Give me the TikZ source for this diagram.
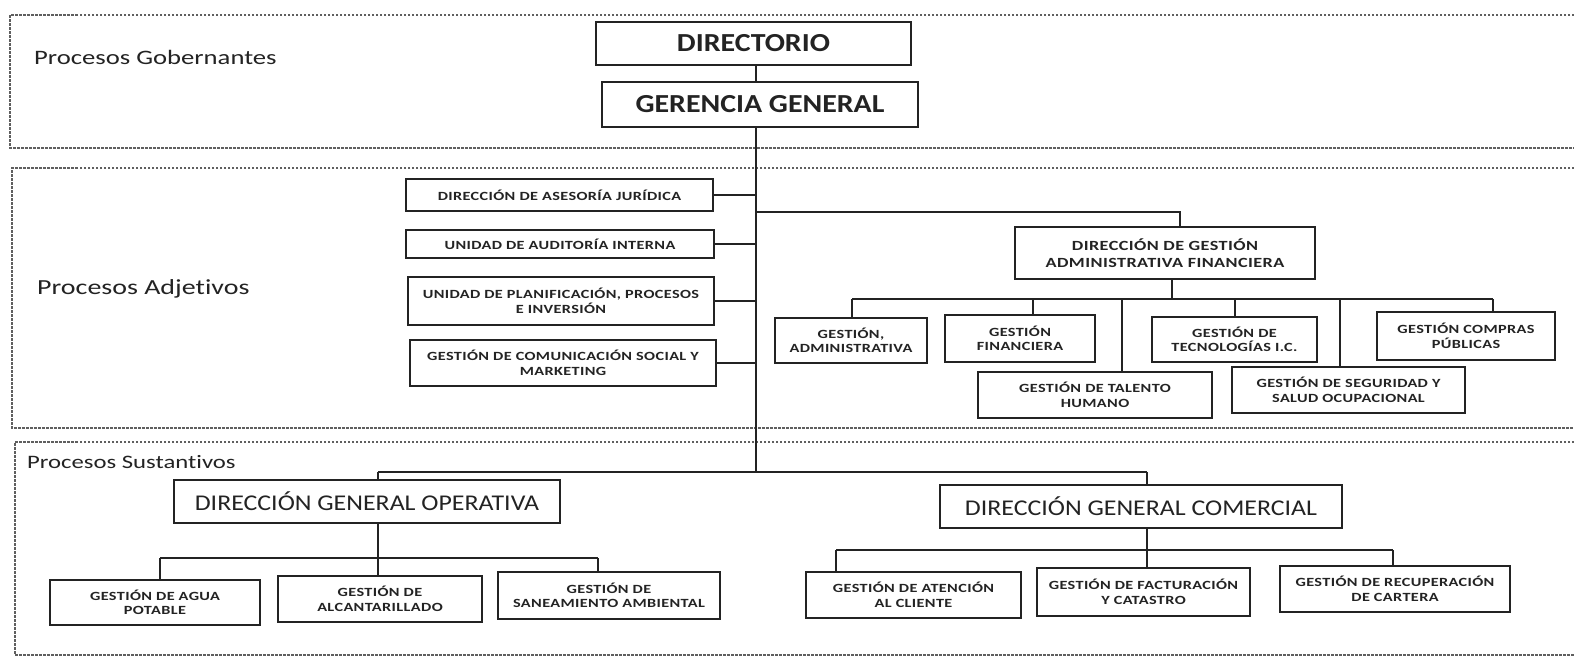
\documentclass[tikz,border=0pt]{standalone}
\usepackage{fontspec}
\setmainfont{Carlito}[Ligatures=NoCommon]
\newfontfamily\hfont{Carlito}[FakeStretch=1.15,Ligatures=NoCommon]
\newfontfamily\lfont{Carlito}[FakeStretch=1.3,Ligatures=NoCommon]
\newfontfamily\sfont{Carlito}[FakeStretch=1.3,LetterSpace=3,Ligatures=NoCommon]
\definecolor{ink}{RGB}{35,35,35}
\definecolor{panelgray}{RGB}{95,95,95}
\begin{document}
\begin{tikzpicture}[x=1pt,y=-1pt,
  box/.style={draw=ink,line width=1.8pt,inner sep=0pt,align=center,text=ink},
  big/.style={box,line width=2.2pt,font=\hfont\bfseries\fontsize{26}{28}\selectfont},
  mid/.style={box,line width=2pt,font=\hfont\fontsize{22.5}{24}\selectfont},
  sm/.style={box,font=\sfont\bfseries\fontsize{12.5}{14.5}\selectfont},
  smb/.style={box,font=\sfont\bfseries\fontsize{14}{16.5}\selectfont},
  conn/.style={draw=ink,line width=1.6pt},
  panel/.style={draw=panelgray,line width=1.1pt,dash pattern=on 2.5pt off 1.5pt},
  lbl/.style={anchor=west,inner sep=0pt,text=ink,font=\lfont\fontsize{20.5}{22}\selectfont}]
\fill[white] (0,0) rectangle (1574,664);
\useasboundingbox (0,0) rectangle (1574,664);

% panels
\draw[panel] (1574,15) -- (10,15) -- (10,148) -- (1574,148);
\draw[panel] (1574,168) -- (12,168) -- (12,428) -- (1574,428);
\draw[panel] (1574,442) -- (15,442) -- (15,655) -- (1574,655);

% panel labels
\node[lbl] (lg) at (34,57) {Procesos Gobernantes};
\node[lbl,font=\lfont\fontsize{21.5}{23}\selectfont] (la) at (37,289) {Procesos Adjetivos};
\node[lbl,font=\lfont\fontsize{19}{21}\selectfont] (ls) at (27,462) {Procesos Sustantivos};

% governing
\node[big,minimum width=315pt,minimum height=43pt] (dir) at (753.5,43.5) {DIRECTORIO};
\node[big,minimum width=316pt,minimum height=45pt] (ger) at (760,104.5) {GERENCIA GENERAL};

% adjective left
\node[sm,minimum width=307pt,minimum height=32pt] (a1) at (559.5,195) {DIRECCIÓN DE ASESORÍA JURÍDICA};
\node[sm,minimum width=308pt,minimum height=28pt] (a2) at (560,244) {UNIDAD DE AUDITORÍA INTERNA};
\node[sm,minimum width=306pt,minimum height=48pt] (a3) at (561,301) {UNIDAD DE PLANIFICACIÓN, PROCESOS\\E INVERSIÓN};
\node[sm,minimum width=306pt,minimum height=46pt] (a4) at (563,363) {GESTIÓN DE COMUNICACIÓN SOCIAL Y\\MARKETING};

% adjective right
\node[smb,minimum width=300pt,minimum height=52pt] (dgaf) at (1165,253) {DIRECCIÓN DE GESTIÓN\\ADMINISTRATIVA FINANCIERA};
\node[sm,minimum width=152pt,minimum height=45pt] (g1) at (851,340.5) {GESTIÓN,\\ADMINISTRATIVA};
\node[sm,minimum width=150pt,minimum height=47pt] (g2) at (1020,338.5) {GESTIÓN\\FINANCIERA};
\node[sm,minimum width=234pt,minimum height=46pt] (g3) at (1095,395) {GESTIÓN DE TALENTO\\HUMANO};
\node[sm,minimum width=165pt,minimum height=45pt] (g4) at (1234.5,339.5) {GESTIÓN DE\\TECNOLOGÍAS I.C.};
\node[sm,minimum width=233pt,minimum height=46pt] (g5) at (1348.5,390) {GESTIÓN DE SEGURIDAD Y\\SALUD OCUPACIONAL};
\node[sm,minimum width=178pt,minimum height=48pt] (g6) at (1466,336) {GESTIÓN COMPRAS\\PÚBLICAS};

% substantive
\node[mid,minimum width=386pt,minimum height=43pt] (dgo) at (367,501) {DIRECCIÓN GENERAL OPERATIVA};
\node[mid,minimum width=402pt,minimum height=43pt] (dgc) at (1141,506.5) {DIRECCIÓN GENERAL COMERCIAL};
\node[sm,minimum width=210pt,minimum height=45pt] (b1) at (155,602.5) {GESTIÓN DE AGUA\\POTABLE};
\node[sm,minimum width=204pt,minimum height=46pt] (b2) at (380,599) {GESTIÓN DE\\ALCANTARILLADO};
\node[sm,minimum width=222pt,minimum height=47pt] (b3) at (609,595.5) {GESTIÓN DE\\SANEAMIENTO AMBIENTAL};
\node[sm,minimum width=215pt,minimum height=46pt] (c1) at (913.5,595) {GESTIÓN DE ATENCIÓN\\AL CLIENTE};
\node[sm,minimum width=213pt,minimum height=48pt] (c2) at (1143.5,592) {GESTIÓN DE FACTURACIÓN\\Y CATASTRO};
\node[sm,minimum width=230pt,minimum height=46pt] (c3) at (1395,589) {GESTIÓN DE RECUPERACIÓN\\DE CARTERA};

% junction coordinates
\coordinate (tx) at (756,0);
\coordinate (tb) at (756,472);
\coordinate (jA) at (756,212);
\coordinate (jAr) at (1180,212);
\coordinate (busL) at (852,299);
\coordinate (busR) at (1493,299);
\coordinate (jO) at (378,472);
\coordinate (jC) at (1147,472);
\coordinate (bO) at (160,558);
\coordinate (bOr) at (598,558);
\coordinate (bC) at (836,550);
\coordinate (bCr) at (1393,550);

% governing connectors
\draw[conn] (dir.south -| tx) -- (ger.north -| tx);
\draw[conn] (ger.south -| tx) -- (tb);

% adjective left connectors
\foreach \n in {a1,a2,a3,a4}{\draw[conn] (\n.east) -- (\n.east -| tx);}

% to DGAF
\draw[conn,line width=1.8pt] (jA) -- (jAr) -- (jAr |- dgaf.north);
\draw[conn] (dgaf.south -| 1172,0) -- (1172,299);
\draw[conn,line width=1.8pt] (busL) -- (busR);
\draw[conn] (busL) -- (busL |- g1.north);
\draw[conn] (1033,299) -- (g2.north -| 1033,0);
\draw[conn] (1122,299) -- (g3.north -| 1122,0);
\draw[conn] (1235,299) -- (g4.north -| 1235,0);
\draw[conn] (1340,299) -- (g5.north -| 1340,0);
\draw[conn] (busR) -- (busR |- g6.north);

% substantive connectors
\draw[conn,line width=1.8pt] (jO) -- (jC);
\draw[conn] (jO) -- (jO |- dgo.north);
\draw[conn] (jC) -- (jC |- dgc.north);
\draw[conn] (dgo.south -| jO) -- (b2.north -| jO);
\draw[conn] (bO) -- (bOr);
\draw[conn] (bO) -- (bO |- b1.north);
\draw[conn] (bOr) -- (bOr |- b3.north);
\draw[conn] (dgc.south -| jC) -- (c2.north -| jC);
\draw[conn,line width=1.8pt] (bC) -- (bCr);
\draw[conn] (bC) -- (bC |- c1.north);
\draw[conn] (bCr) -- (bCr |- c3.north);
\end{tikzpicture}
\end{document}
